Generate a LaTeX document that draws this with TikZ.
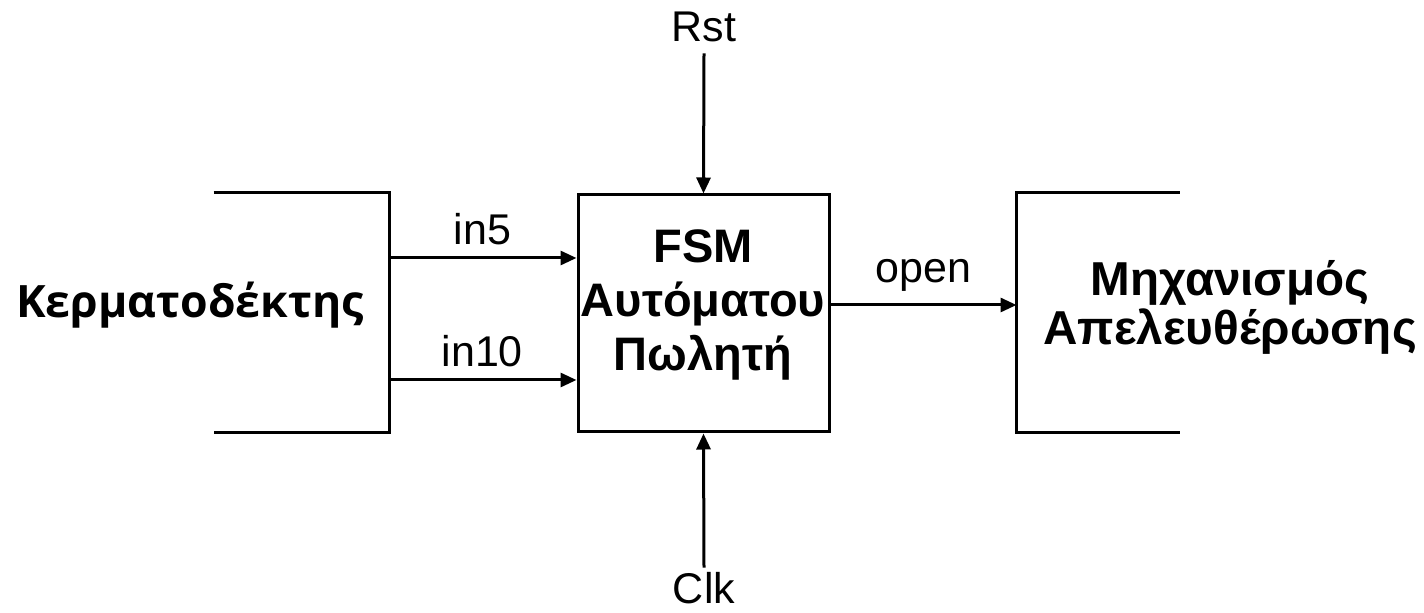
\documentclass[tikz,border=0pt]{standalone}
\usepackage{fontspec}
\setmainfont{Liberation Sans}
\newfontfamily\coinfont{Open Sans}
\usetikzlibrary{arrows.meta}

\begin{document}
\begin{tikzpicture}[x=0.5pt,y=-0.5pt,line width=1.5pt]
	\tikzstyle{blk}=[rectangle,minimum width=86.5pt,minimum height=118.5pt,inner sep=0pt]
	\tikzstyle{bigtxt}=[font=\fontsize{22}{26}\selectfont\bfseries,align=center,inner sep=0pt]
	\tikzstyle{lbl}=[font=\fontsize{21.5}{25}\selectfont,inner sep=0pt]
	\tikzstyle{arr}=[-{Triangle[length=8pt,width=7pt]}]

	\useasboundingbox (0,0) rectangle (1424,613);

	% blocks
	\node[blk] (coin) at (301.5,313) {};
	\node[blk,draw,minimum width=125.5pt] (fsm) at (703.5,313.5) {};
	\node[blk,minimum width=80pt] (rel) at (1098,313) {};

	\draw (coin.north west) -- (coin.north east) -- (coin.south east) -- (coin.south west);
	\draw (rel.north east) -- (rel.north west) -- (rel.south west) -- (rel.south east);

	% texts
	\node[bigtxt,font=\fontsize{22.3}{26}\selectfont\bfseries\coinfont] (coinlbl) at (190,305) {Κερματοδέκτης};
	\node[bigtxt,font=\fontsize{23.5}{27}\selectfont\bfseries] (fsmlbl) at (703,305) {FSM\\Αυτόματου\\Πωλητή};
	\node[bigtxt,font=\fontsize{23.8}{24.5}\selectfont\bfseries] (rellbl) at (1230,307) {Μηχανισμός\\Απελευθέρωσης};

	% signals
	\coordinate (p5) at (388,258);
	\coordinate (p10) at (388,380);
	\draw[arr] (p5) -- (p5 -| fsm.west) node[lbl,midway,above=6pt] (in5) {in5};
	\draw[arr] (p10) -- (p10 -| fsm.west) node[lbl,midway,above=6pt] (in10) {in10};
	\draw[arr] (fsm.east |- 0,305) -- (rel.west |- 0,305) node[lbl,midway,above=6pt] (open) {open};

	\node[lbl] (rst) at (704,27) {Rst};
	\node[lbl] (clk) at (704,588) {Clk};
	\draw[arr] (rst.south) ++(0,10) -- (fsm.north);
	\draw[arr] (clk.north) ++(0,-3) -- (fsm.south);
\end{tikzpicture}
\end{document}
